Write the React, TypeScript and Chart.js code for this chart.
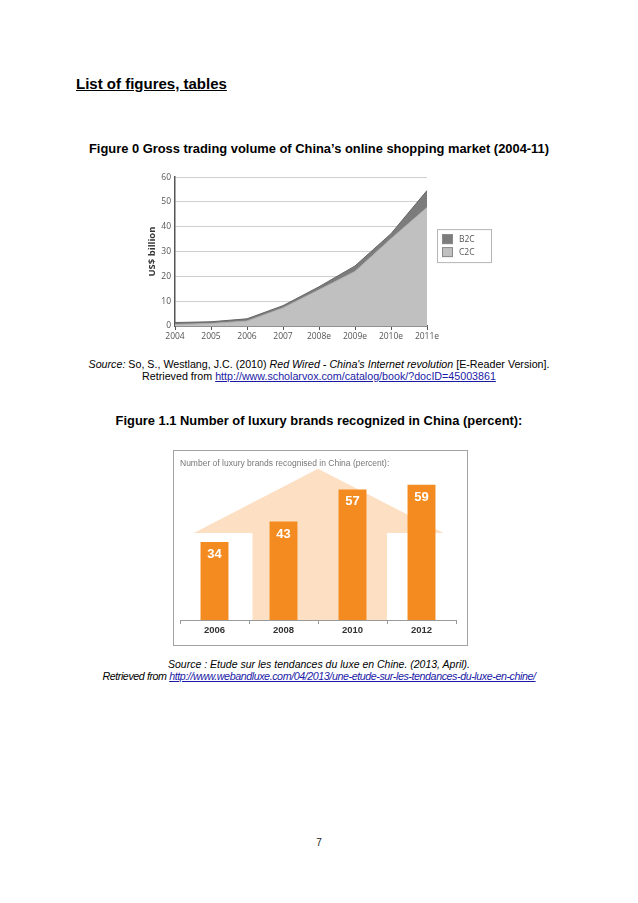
import React, { useEffect, useRef } from 'react';
import { Chart, registerables } from 'chart.js';

Chart.register(...registerables);

// ---- Figure 0 data ----
const years = ['2004', '2005', '2006', '2007', '2008e', '2009e', '2010e', '2011e'];
const c2c = [0.6, 1.0, 2.0, 7.3, 14.6, 22.0, 35.2, 47.8];
const b2c = [0.8, 0.7, 0.9, 0.9, 1.2, 2.2, 2.0, 6.8];
const yMax = 60;
const yStep = 10;

// ---- Figure 1.1 data ----
const luxuryYears = ['2006', '2008', '2010', '2012'];
const luxuryShare = [34, 43, 57, 59];

const SANS = '"Liberation Sans", Arial, sans-serif';
const CHART_SANS = '"Open Sans", "Liberation Sans", sans-serif';

const boxLegend = {
  id: 'boxLegend',
  afterDraw(chart: any) {
    const { ctx, chartArea } = chart;
    const x = chartArea.right + 10;
    const y = chartArea.top + 52;
    const w = 54;
    const h = 33;
    ctx.save();
    ctx.fillStyle = '#ffffff';
    ctx.fillRect(x, y, w, h);
    ctx.strokeStyle = '#b4b4b4';
    ctx.lineWidth = 1;
    ctx.strokeRect(x + 0.5, y + 0.5, w, h);
    const items = [chart.data.datasets[1], chart.data.datasets[0]];
    items.forEach((ds: any, i: number) => {
      const sy = y + 5 + i * 13;
      ctx.fillStyle = ds.backgroundColor;
      ctx.fillRect(x + 5, sy, 11, 10);
      ctx.strokeStyle = '#8a8a8a';
      ctx.strokeRect(x + 5.5, sy + 0.5, 10, 9);
      ctx.fillStyle = '#555';
      ctx.font = '8.5px ' + CHART_SANS;
      ctx.textBaseline = 'middle';
      ctx.textAlign = 'left';
      ctx.fillText(ds.label, x + 22, sy + 5);
    });
    ctx.restore();
  },
};

function OnlineShoppingChart() {
  const ref = useRef<HTMLCanvasElement>(null);
  useEffect(() => {
    if (!ref.current) return;
    const chart = new Chart(ref.current, {
      type: 'line',
      data: {
        labels: years,
        datasets: [
          {
            label: 'C2C',
            data: c2c,
            backgroundColor: '#c0c0c0',
            borderColor: '#ababab',
            borderWidth: 1,
            fill: 'origin',
            pointRadius: 0,
            tension: 0,
          },
          {
            label: 'B2C',
            data: b2c,
            backgroundColor: '#7c7c7c',
            borderColor: '#666666',
            borderWidth: 1,
            fill: '-1',
            pointRadius: 0,
            tension: 0,
          },
        ],
      },
      options: {
        animation: false,
        responsive: false,
        devicePixelRatio: 1,
        layout: { padding: { top: 9, right: 73, left: 0, bottom: 0 } },
        plugins: { legend: { display: false }, tooltip: { enabled: false } },
        scales: {
          x: {
            grid: { drawOnChartArea: false, drawTicks: true, tickLength: 4, color: '#555' },
            border: { color: '#555', width: 1.5 },
            ticks: {
              padding: 1,
              color: '#555',
              maxRotation: 0,
              autoSkip: false,
              font: { size: 8.5, family: CHART_SANS },
            },
            afterFit(s: any) {
              s.height = 24;
            },
          },
          y: {
            stacked: true,
            min: 0,
            max: yMax,
            ticks: {
              stepSize: yStep,
              padding: 4,
              color: '#555',
              font: { size: 8.5, family: CHART_SANS },
            },
            grid: { color: '#cfcfcf', drawTicks: false },
            border: { color: '#555', width: 1.5 },
            title: {
              display: true,
              text: 'US$ billion',
              color: '#333',
              font: { size: 9.5, weight: 'bold', family: CHART_SANS },
              padding: { top: 7, bottom: 0 },
            },
            afterFit(s: any) {
              s.width = 35;
            },
          },
        },
      },
      plugins: [boxLegend],
    } as any);
    return () => chart.destroy();
  }, []);
  return (
    <canvas
      ref={ref}
      width={360}
      height={182}
      style={{ position: 'absolute', left: 140, top: 168, width: 360, height: 182 }}
    />
  );
}

const housePlugin = {
  id: 'house',
  beforeDatasetsDraw(chart: any) {
    const { ctx, scales } = chart;
    const px = (v: number) => scales.x.getPixelForValue(v);
    const py = (v: number) => scales.y.getPixelForValue(v);
    ctx.save();
    ctx.fillStyle = '#fde0c4';
    ctx.beginPath();
    ctx.moveTo(px(-0.3), py(38));
    ctx.lineTo(px(1.5), py(66));
    ctx.lineTo(px(3.32), py(38));
    ctx.lineTo(px(2.5), py(38));
    ctx.lineTo(px(2.5), py(0));
    ctx.lineTo(px(0.55), py(0));
    ctx.lineTo(px(0.55), py(38));
    ctx.closePath();
    ctx.fill();
    ctx.restore();
  },
};

const barValueLabels = {
  id: 'barValueLabels',
  afterDatasetsDraw(chart: any) {
    const { ctx } = chart;
    const meta = chart.getDatasetMeta(0);
    const values = chart.data.datasets[0].data;
    ctx.save();
    ctx.fillStyle = '#ffffff';
    ctx.font = 'bold 13px ' + SANS;
    ctx.textAlign = 'center';
    ctx.textBaseline = 'middle';
    meta.data.forEach((bar: any, i: number) => {
      ctx.fillText(String(values[i]), bar.x, bar.y + 12.5);
    });
    ctx.restore();
  },
};

function LuxuryChart() {
  const ref = useRef<HTMLCanvasElement>(null);
  useEffect(() => {
    if (!ref.current) return;
    const chart = new Chart(ref.current, {
      type: 'bar',
      data: {
        labels: luxuryYears,
        datasets: [
          {
            data: luxuryShare,
            backgroundColor: '#f38b20',
            barPercentage: 0.405,
            categoryPercentage: 1,
          },
        ],
      },
      options: {
        animation: false,
        responsive: false,
        devicePixelRatio: 1,
        layout: { padding: { left: 5, right: 10, top: 0, bottom: 0 } },
        plugins: {
          legend: { display: false },
          tooltip: { enabled: false },
          title: {
            display: true,
            text: 'Number of luxury brands recognised in China (percent):',
            align: 'start',
            color: '#777',
            font: { size: 8.5, weight: 'normal', family: SANS },
            padding: { top: 7, bottom: 3 },
            fullSize: true,
          },
        },
        scales: {
          x: {
            grid: { drawOnChartArea: false, drawTicks: true, tickLength: 4, color: '#9a9a9a', offset: true },
            border: { color: '#9a9a9a', width: 1 },
            ticks: {
              color: '#333',
              padding: 1,
              font: { size: 9.5, weight: 'bold', family: SANS },
            },
            afterFit(s: any) {
              s.height = 24;
            },
          },
          y: { display: false, min: 0, max: 64.5 },
        },
      },
      plugins: [housePlugin, barValueLabels],
    } as any);
    return () => chart.destroy();
  }, []);
  return (
    <>
      <div
        style={{
          position: 'absolute',
          left: 173,
          top: 450,
          width: 295,
          height: 196,
          boxSizing: 'border-box',
          border: '1.5px solid #a3a3a3',
        }}
      />
      <canvas
        ref={ref}
        width={291}
        height={192}
        style={{ position: 'absolute', left: 175, top: 452, width: 291, height: 192 }}
      />
    </>
  );
}

const center = (top: number, lh: number): React.CSSProperties => ({
  position: 'absolute',
  left: 0,
  width: 638,
  top,
  lineHeight: lh + 'px',
  textAlign: 'center',
  whiteSpace: 'nowrap',
});

const link: React.CSSProperties = { color: '#1a1aa6', textDecoration: 'underline' };

export default function App() {
  return (
    <div
      style={{
        position: 'absolute',
        left: 0,
        top: 0,
        width: 638,
        height: 903,
        background: '#fff',
        fontFamily: SANS,
        color: '#000',
        overflow: 'hidden',
      }}
    >
      <div
        style={{
          position: 'absolute',
          left: 76,
          top: 76,
          lineHeight: '16px',
          fontSize: 15,
          fontWeight: 'bold',
          textDecoration: 'underline',
          whiteSpace: 'nowrap',
        }}
      >
        List of figures, tables
      </div>

      <div style={{ ...center(141, 15), fontSize: 12.9, fontWeight: 'bold' }}>
        Figure 0 Gross trading volume of China’s online shopping market (2004-11)
      </div>

      <OnlineShoppingChart />

      <div style={{ ...center(358, 12), fontSize: 10.7 }}>
        <i>Source:</i> So, S., Westlang, J.C. (2010) <i>Red Wired - China's Internet revolution</i> [E-Reader Version].
      </div>
      <div style={{ ...center(370, 12), fontSize: 10.7 }}>
        Retrieved from <span style={link}>http://www.scholarvox.com/catalog/book/?docID=45003861</span>
      </div>

      <div style={{ ...center(413, 15), fontSize: 12.9, fontWeight: 'bold' }}>
        Figure 1.1 Number of luxury brands recognized in China (percent):
      </div>

      <LuxuryChart />

      <div style={{ ...center(658, 12), fontSize: 10.5, fontStyle: 'italic' }}>
        Source : Etude sur les tendances du luxe en Chine. (2013, April).
      </div>
      <div style={{ ...center(670, 12), fontSize: 10.7, fontStyle: 'italic', letterSpacing: '-0.42px' }}>
        Retrieved from <span style={link}>http://www.webandluxe.com/04/2013/une-etude-sur-les-tendances-du-luxe-en-chine/</span>
      </div>

      <div style={{ ...center(837, 12), fontSize: 10, color: '#222' }}>7</div>
    </div>
  );
}
